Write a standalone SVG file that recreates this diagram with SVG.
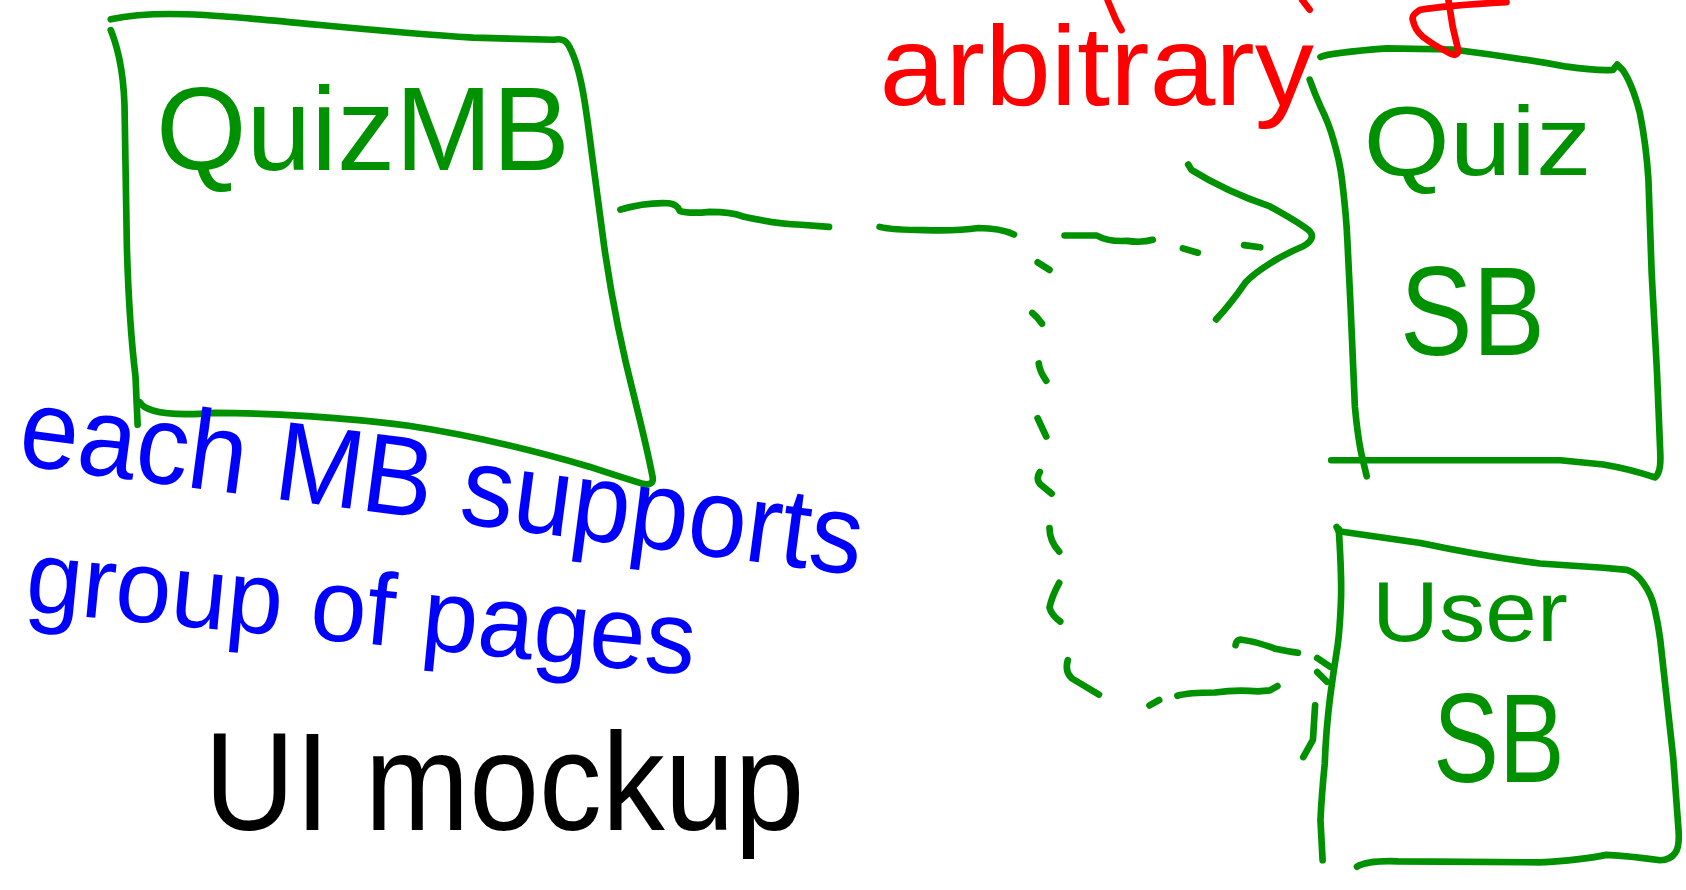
<svg xmlns="http://www.w3.org/2000/svg" width="1686" height="890" viewBox="0 0 1686 890">
<style>
.ln{fill:none;stroke:#009100;stroke-width:6.2;stroke-linecap:round;stroke-linejoin:round}
.rd{fill:none;stroke:#ff0000;stroke-width:6.2;stroke-linecap:round;stroke-linejoin:round}
.t{font-family:"Liberation Sans","DejaVu Sans",sans-serif;font-weight:normal}
.tg{fill:#009100}
.tr{fill:#ff0000}
.tb{fill:#0000ff}
.tk{fill:#000000}
</style>
<rect width="1686" height="890" fill="#ffffff"/>
<g transform="scale(1.0753)">
<g id="node-quizmb">
<path class="ln" d="M103,18 C135,11 175,12 230,17 C300,23 360,30 440,35 L515,37 Q524,35 528,41 C540,60 545,100 550,140 L562,230 Q572,300 590,370 Q602,418 607,444 Q608,452 598,450 Q575,443 548,434 C500,420 440,405 380,396 C320,388 250,384 200,384 Q160,387 143,382 Q133,379 130,374"/>
<path class="ln" d="M103,28 Q116,60 116,110 L118,230 Q120,300 126,350 L128,395"/>
<text class="t tg" x="145" y="158" font-size="110" textLength="385" lengthAdjust="spacingAndGlyphs">QuizMB</text>
</g>
<g id="node-quizsb">
<path class="ln" d="M1228,53 Q1237,49 1290,45 L1351,46 Q1407,53 1457,62 Q1485,66 1500,65 L1504,60 L1509,65 Q1518,78 1525,105 Q1531,135 1533,167 L1536,254 L1541,347 L1544,421 Q1545,440 1539,444 Q1515,436 1491,432 L1451,428 L1380,428 Q1300,428 1238,428"/>
<path class="ln" d="M1218,74 Q1223,88 1228,99 Q1236,115 1240,130 Q1246,150 1248,167 Q1252,200 1253,223 L1256,285 L1260,378 Q1263,410 1267,426 L1271,443"/>
<text class="t tg" x="1268" y="163" font-size="92" textLength="212" lengthAdjust="spacingAndGlyphs">Quiz</text>
<text class="t tg" x="1302" y="330" font-size="118" textLength="135" lengthAdjust="spacingAndGlyphs">SB</text>
</g>
<g id="node-usersb">
<path class="ln" d="M1243,490 L1245,494 L1321,505 Q1383,518 1432,524 L1491,528 L1513,530 Q1522,533 1528,542 Q1536,553 1539,567 Q1542,580 1544,595 L1556,704 L1561,772 Q1562,788 1558,793 Q1553,800 1544,800 Q1515,796 1494,795 Q1470,800 1432,802 L1300,801 Q1272,800 1262,806"/>
<path class="ln" d="M1245,492 Q1248,539 1247,560 Q1246,586 1244,600 Q1240,625 1237,648 Q1233,680 1232,710 Q1229,740 1228,763 L1230,800"/>
<text class="t tg" x="1276" y="596" font-size="80" textLength="182" lengthAdjust="spacingAndGlyphs">User</text>
<text class="t tg" x="1333" y="727" font-size="118" textLength="122" lengthAdjust="spacingAndGlyphs">SB</text>
</g>
<g id="connectors">
<g id="edge-quizmb-quizsb">
<path class="ln" d="M577,195 Q600,188 622,189 Q630,190 632,196 Q640,199 660,197 Q680,197 690,201 Q720,208 745,209 L771,211"/>
<path class="ln" d="M818,211 Q830,214 860,214 Q890,215 910,212 Q930,212 943,218"/>
<path class="ln" d="M990,219 L1020,219 Q1030,225 1048,224 Q1062,226 1072,223"/>
<path class="ln" d="M1100,231 L1114,235"/>
<path class="ln" d="M1157,228 L1172,230"/>
<path class="ln" d="M1105,153 L1108,158 Q1140,178 1181,192 Q1210,208 1218,215 Q1224,222 1212,229 Q1195,236 1181,245 Q1165,255 1158,263 Q1145,282 1131,297"/>
</g>
<g id="edge-to-usersb">
<path class="ln" d="M965,244 L976,251"/>
<path class="ln" d="M960,291 Q965,295 969,301"/>
<path class="ln" d="M966,338 Q967,346 973,354"/>
<path class="ln" d="M965,389 L973,406"/>
<path class="ln" d="M967,439 Q963,445 967,450 L978,459"/>
<path class="ln" d="M976,491 Q976,503 985,513"/>
<path class="ln" d="M985,542 Q978,555 976,565 Q978,572 986,578"/>
<path class="ln" d="M993,614 Q990,625 997,631 L1022,646"/>
<path class="ln" d="M1069,656 L1078,651"/>
<path class="ln" d="M1095,647 Q1105,644 1130,644 Q1150,641 1170,643 L1181,642 L1188,638"/>
<path class="ln" d="M1149,600 Q1150,594 1155,595 Q1170,597 1185,603 Q1200,606 1207,607"/>
<path class="ln" d="M1225,612 L1237,620"/>
<path class="ln" d="M1225,625 L1234,634"/>
<path class="ln" d="M1223,656 L1221,688 L1212,704"/>
</g>
<text id="label-arbitrary" class="t tr" x="818" y="98" font-size="105" textLength="404" lengthAdjust="spacingAndGlyphs">arbitrary</text>
<g id="red-fragments">
<path class="rd" d="M1030,0 L1038,19 L1043,28"/>
<path class="rd" d="M1211,0 L1218,9"/>
<path class="rd" d="M1401,2 Q1346,5 1321,9 Q1312,14 1314,19 Q1316,28 1323,34 Q1335,43 1342,46 Q1350,51 1353,51 Q1357,49 1356,46 L1351,25 L1347,0"/>
</g>
</g>
<g id="note-mb">
<text class="t tb" x="15" y="432" font-size="105" textLength="790" lengthAdjust="spacingAndGlyphs" transform="rotate(7.5 15 432)">each MB supports</text>
<text class="t tb" x="22" y="568" font-size="96" textLength="625" lengthAdjust="spacingAndGlyphs" transform="rotate(5.5 22 568)">group of pages</text>
</g>
<g id="note-ui">
<text class="t tk" x="190" y="772" font-size="130" textLength="558" lengthAdjust="spacingAndGlyphs">UI mockup</text>
</g>
</g>
</svg>
